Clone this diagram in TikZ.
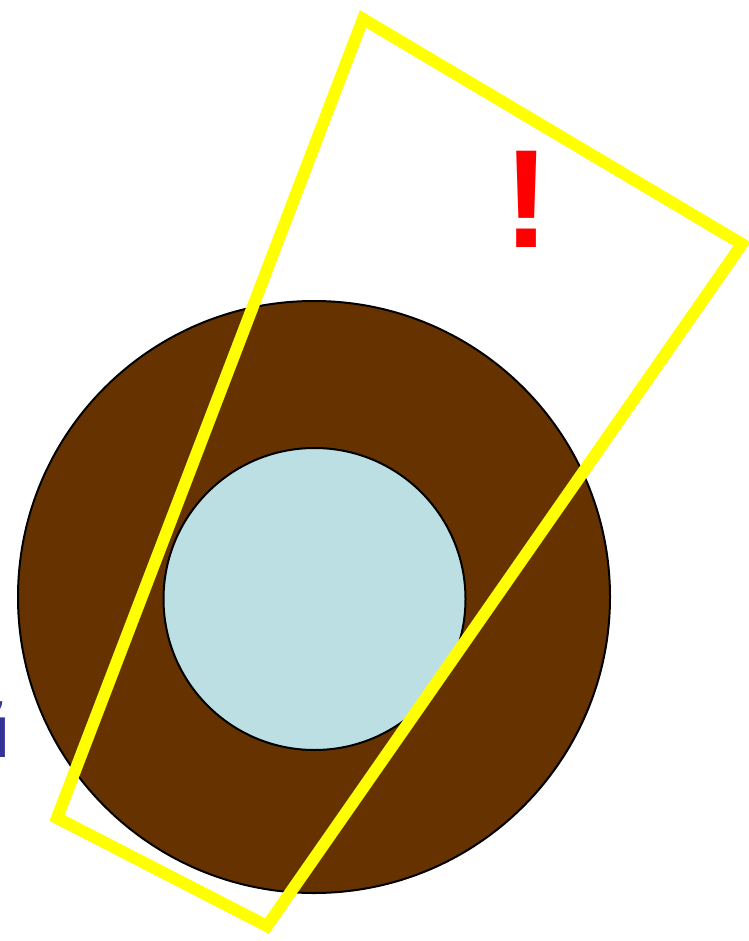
\documentclass[tikz,border=0pt]{standalone}
\usepackage{fontspec}
\setmainfont{Liberation Sans}
\definecolor{brownring}{HTML}{663300}
\definecolor{lightcore}{HTML}{BBDFE3}
\definecolor{yellowline}{HTML}{FFFF00}
\definecolor{bluetext}{HTML}{33339A}
\tikzset{
  ring/.style={draw=black, line width=2pt},
  frameline/.style={draw=yellowline, line width=12pt, line join=miter},
  mark/.style={}
}
\begin{document}
\begin{tikzpicture}[x=1pt,y=-1pt]
\useasboundingbox (0,0) rectangle (748,941);
\fill[white] (0,0) rectangle (748,941);
\node[text=bluetext, font=\bfseries\fontsize{75}{75}\selectfont, anchor=base east, inner sep=0] (letter) at (11,757) {й};
\filldraw[ring, fill=brownring] (314,597) circle (296);
\filldraw[ring, fill=lightcore] (314.5,599) circle (151);
\coordinate (A) at (363,19);
\coordinate (B) at (742,244);
\coordinate (C) at (267,926);
\coordinate (D) at (57,818);
\draw[frameline] (A) -- (B) -- (C) -- (D) -- cycle;
\node[text=red, font=\bfseries\fontsize{140}{140}\selectfont, inner sep=0] (excl) at (527,199) {!};
\end{tikzpicture}
\end{document}
